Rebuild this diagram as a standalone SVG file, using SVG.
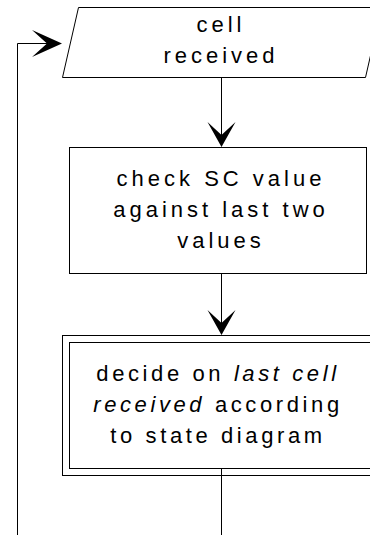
<svg xmlns="http://www.w3.org/2000/svg" width="370" height="535" viewBox="0 0 370 535">
<style>
.shape{fill:#fff;stroke:#000;stroke-width:1}
.conn{fill:none;stroke:#000;stroke-width:1}
.txt{font-family:"Liberation Sans",Arial,sans-serif;font-size:22px;letter-spacing:4px;text-anchor:middle;fill:#000}
.tight{letter-spacing:3.6px}
.it{font-style:italic}
</style>
<defs>
<marker id="arrowV" markerUnits="userSpaceOnUse" viewBox="-15 -15 30 30" markerWidth="30" markerHeight="30" refX="0" refY="0" orient="auto">
<path d="M12,0 L-13,-14 L0,0 L-13,14 Z" fill="#000"/>
</marker>
<marker id="arrowH" markerUnits="userSpaceOnUse" viewBox="-16 -16 32 32" markerWidth="32" markerHeight="32" refX="0" refY="0" orient="auto">
<path d="M15,0 L-15,-13.5 L0,0 L-15,13.5 Z" fill="#000"/>
</marker>
</defs>
<g id="n1">
<polygon class="shape" points="78.5,7.5 381.5,7.5 365.5,77.5 62.5,77.5"/>
<text class="txt" x="221" y="32">cell</text>
<text class="txt" x="221" y="63">received</text>
</g>
<g id="n2">
<rect class="shape" x="69.5" y="147.5" width="297" height="126"/>
<text class="txt" x="221" y="186">check SC value</text>
<text class="txt" x="221" y="217">against last two</text>
<text class="txt" x="221" y="248">values</text>
</g>
<g id="n3">
<rect class="shape" x="62.5" y="335.5" width="318" height="140"/>
<rect class="shape" x="69.5" y="342.5" width="304" height="126"/>
<text class="txt tight" x="218" y="381">decide on <tspan class="it">last cell</tspan></text>
<text class="txt tight" x="218" y="412"><tspan class="it">received</tspan> according</text>
<text class="txt tight" x="218" y="443">to state diagram</text>
</g>
<g id="connectors">
<path class="conn" d="M221.5,78 V135" marker-end="url(#arrowV)"/>
<path class="conn" d="M221.5,274 V323" marker-end="url(#arrowV)"/>
<path class="conn" d="M221.5,469 V560 H17.5 V43.5 H47" marker-end="url(#arrowH)"/>
</g>
</svg>
